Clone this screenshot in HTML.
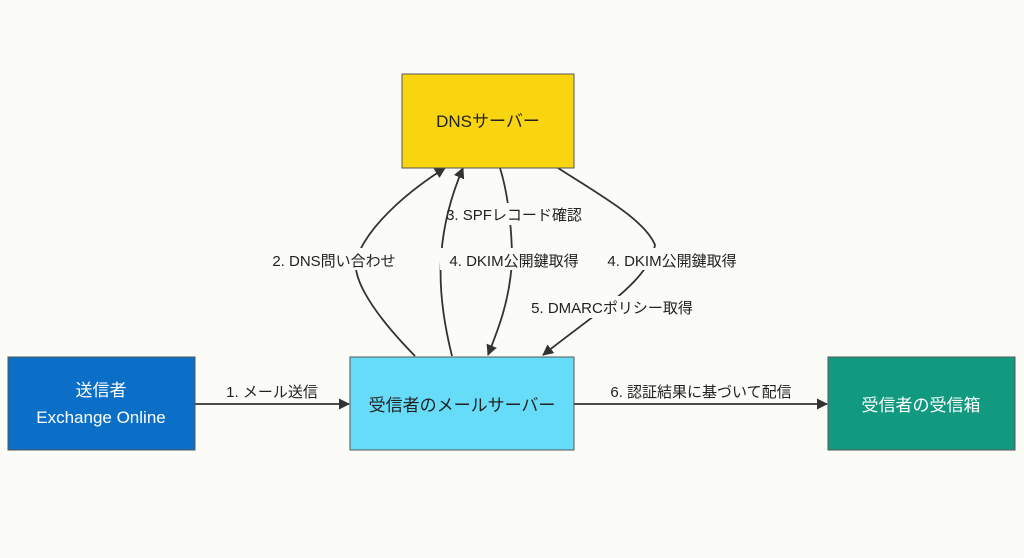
<!DOCTYPE html>
<html><head><meta charset="utf-8"><style>
body{margin:0;background:#fbfbf8;}
svg{display:block;font-family:"Liberation Sans","Noto Sans CJK JP",sans-serif;}
</style></head><body>
<svg width="1024" height="558" viewBox="0 0 1024 558">
<defs><marker id="a" markerWidth="11" markerHeight="11" refX="10" refY="5.5" orient="auto" markerUnits="userSpaceOnUse"><path d="M0,0 L11,5.5 L0,11 z" fill="#333"/></marker></defs>
<rect width="1024" height="558" fill="#fbfbf8"/>
<g fill="none" stroke="#333" stroke-width="1.8">
<path d="M415,356 C370,310 345,270 360,250 C375,220 410,190 445,168" marker-end="url(#a)"/>
<path d="M452,356 C438,300 432,240 463,168" marker-end="url(#a)"/>
<path d="M500,168 C510,200 512,240 512,260 C510,300 498,330 488,355" marker-end="url(#a)"/>
<path d="M558,168 C600,195 645,220 655,245 C650,280 600,310 543,355" marker-end="url(#a)"/>
<path d="M195,404 L349,404" marker-end="url(#a)"/>
<path d="M574,404 L827,404" marker-end="url(#a)"/>
</g>
<rect x="402" y="74" width="172" height="94" fill="#f8d50f" stroke="#555" stroke-width="1"/>
<rect x="350" y="357" width="224" height="93" fill="#66dcf8" stroke="#555" stroke-width="1"/>
<rect x="8" y="357" width="187" height="93" fill="#0b6fc8" stroke="#555" stroke-width="1"/>
<rect x="828" y="357" width="187" height="93" fill="#119a80" stroke="#555" stroke-width="1"/>
<g font-size="17" text-anchor="middle" fill="#222">
<text x="488" y="127">DNSサーバー</text>
<text x="462" y="411">受信者のメールサーバー</text>
<text x="101" y="396" fill="#fff">送信者</text>
<text x="101" y="423" fill="#fff">Exchange Online</text>
<text x="921" y="411" fill="#fff">受信者の受信箱</text>
</g>
<g font-size="15" text-anchor="middle" fill="#222">
<rect x="280" y="248" width="108" height="22" fill="#fbfbf8"/>
<text x="334" y="266">2. DNS問い合わせ</text>
<rect x="440" y="248" width="150" height="22" fill="#fbfbf8"/>
<text x="514" y="266">4. DKIM公開鍵取得</text>
<rect x="455" y="203" width="130" height="22" fill="#fbfbf8"/>
<text x="514" y="220">3. SPFレコード確認</text>
<rect x="600" y="248" width="145" height="22" fill="#fbfbf8"/>
<text x="672" y="266">4. DKIM公開鍵取得</text>
<rect x="525" y="296" width="175" height="22" fill="#fbfbf8"/>
<text x="612" y="313">5. DMARCポリシー取得</text>
<text x="272" y="397">1. メール送信</text>
<text x="701" y="397">6. 認証結果に基づいて配信</text>
</g>
</svg>
</body></html>
